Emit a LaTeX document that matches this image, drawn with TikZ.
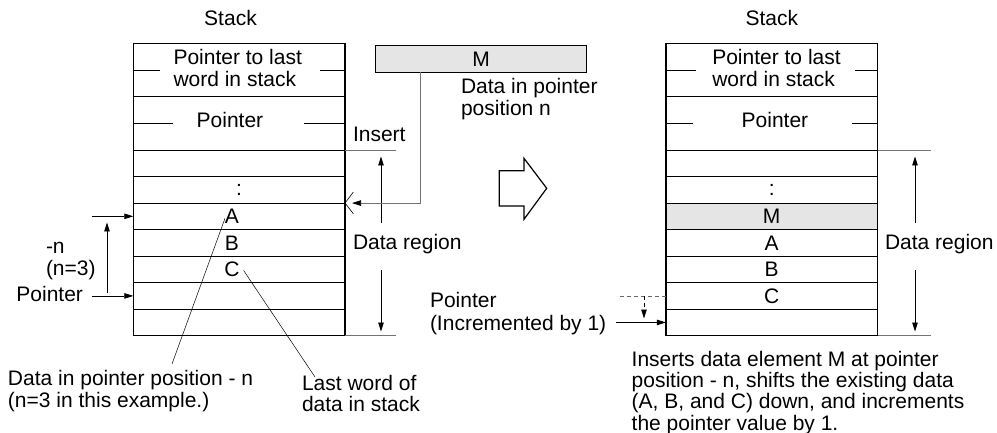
\documentclass[tikz,border=0pt]{standalone}
\usepackage{fontspec}
\setmainfont{Liberation Sans}
\usetikzlibrary{arrows.meta,calc}
\begin{document}
\begin{tikzpicture}[x=1pt,y=-1pt, font=\fontsize{21}{21.5}\selectfont,
  cell/.style={draw, line width=0.9pt, minimum width=211.7pt, minimum height=26.53pt, inner sep=0pt, outer sep=0pt},
  tall/.style={cell, minimum height=53.35pt},
  txt/.style={inner sep=0pt, outer sep=0pt},
  dim/.style={draw=black!55, line width=0.6pt},
  arr/.style={-{Triangle[length=9pt,width=5.5pt,color=black]}, line width=0.7pt},
  lead/.style={line width=0.5pt},
  datafill/.style={fill=black!10},
  border/.style={line width=1.4pt},
]
\useasboundingbox (0,0) rectangle (997,433);

% ---------- left stack ----------
\node[txt, anchor=base] (stackL) at (230.5,25.7) {Stack};
\node[tall] (lh1) at (239.15,70.15) {};
\node[tall] (lh2) at (239.15,123.5) {};
\node[cell] (l1) at (239.15,163.27) {};
\node[cell] (l2) at (239.15,189.8) {:};
\node[cell] (l3) at (239.15,216.33) {};
\node[cell] (l4) at (239.15,242.86) {};
\node[cell] (l5) at (239.15,269.39) {};
\node[cell] (l6) at (239.15,295.92) {};
\node[cell] (l7) at (239.15,322.45) {};
\draw[border] (lh1.north west) rectangle (l7.south east);
\draw[line width=0.9pt] (lh1.west) -- ++(26.7,0) (lh1.east) -- ++(-25,0);
\draw[line width=0.9pt] (lh2.west) -- ++(39.7,0) (lh2.east) -- ++(-41,0);
\node[txt, anchor=base west] (lt1) at (173.5,65) {Pointer to last};
\node[txt, anchor=base west] (lt2) at (173.5,86.7) {word in stack};
\node[txt, anchor=base west] (lt3) at (196.7,127.3) {Pointer};
\node[txt] (lA) at (232,216.33) {A};
\node[txt] (lB) at (232,242.86) {B};
\node[txt] (lC) at (232,269.39) {C};

% left side pointer marks
\node[txt, anchor=base west] (mn) at (46,253.3) {-n};
\node[txt, anchor=base west] (n3) at (46,275) {(n=3)};
\node[txt, anchor=base east] (ptrL) at (83,301) {Pointer};
\coordinate (nstart) at (92,216.33);
\draw[arr] (nstart) -- (l3.west);
\draw[arr] ([xshift=9pt]ptrL.east |- l6.west) -- (l6.west);
\coordinate (nvb) at (107,293);
\coordinate (nvt) at (107,222.5);
\draw[arr] (nvb) -- (nvt);

% leader texts
\node[txt, anchor=base west] (dA1) at (8,385) {Data in pointer position - n};
\node[txt, anchor=base west] (dA2) at (8,407) {(n=3 in this example.)};
\node[txt, anchor=base west] (lw1) at (302,390) {Last word of};
\node[txt, anchor=base west] (lw2) at (302,411.7) {data in stack};
\coordinate (dAe) at (172,364);
\coordinate (lwe) at (315,377);
\draw[lead] ([shift={(0,2)}]lA.west) -- (dAe);
\draw[lead] ([shift={(4,1)}]lC.east) -- (lwe);

% data region (left)
\draw[dim] (l1.north east) -- ++(51,0);
\draw[dim] (l7.south east) -- ++(51,0);
\coordinate (dl1) at (381,223);
\coordinate (dl2) at (381,156.5);
\coordinate (dl3) at (381,270);
\coordinate (dl4) at (381,331.5);
\draw[arr] (dl1) -- (dl2);
\draw[arr] (dl3) -- (dl4);
\node[txt, anchor=base west] (ins) at (353,141.7) {Insert};
\node[txt, anchor=base west] (drL) at (353,249) {Data region};

% M box
\node[cell, datafill, minimum width=211pt, minimum height=26.6pt] (mbox) at (481.2,59) {M};
\node[txt, anchor=base west] (dp1) at (461,94) {Data in pointer};
\node[txt, anchor=base west] (dp2) at (461,116) {position n};
\draw[arr, draw=black!55] ($(mbox.south west)+(45,0)$) |- ([xshift=7pt]l3.north east);
\draw[line width=0.6pt] ([shift={(8.3,-11)}]l3.north east) -- (l3.north east) -- ([shift={(8.3,10.6)}]l3.north east);

% hollow arrow
\draw[line width=1.2pt, line join=miter] (499.3,170.7) -- (524,170.7) -- (524,158.3) -- (546.7,188.3) -- (524,219.3) -- (524,206) -- (499.3,206) -- cycle;

% ---------- right stack ----------
\node[txt, anchor=base] (stackR) at (771.8,25.7) {Stack};
\node[tall] (rh1) at (771.7,70.15) {};
\node[tall] (rh2) at (771.7,123.5) {};
\node[cell] (r1) at (771.7,163.27) {};
\node[cell] (r2) at (771.7,189.8) {:};
\node[cell, datafill] (r3) at (771.7,216.33) {M};
\node[cell] (r4) at (771.7,242.86) {A};
\node[cell] (r5) at (771.7,269.39) {B};
\node[cell] (r6) at (771.7,295.92) {C};
\node[cell] (r7) at (771.7,322.45) {};
\draw[border] (rh1.north west) rectangle (r7.south east);
\draw[line width=0.9pt] (rh1.west) -- ++(30.3,0) (rh1.east) -- ++(-22.7,0);
\draw[line width=0.9pt] (rh2.west) -- ++(27.3,0) (rh2.east) -- ++(-26,0);
\node[txt, anchor=base west] (rt1) at (712.3,65) {Pointer to last};
\node[txt, anchor=base west] (rt2) at (712.3,86.7) {word in stack};
\node[txt, anchor=base west] (rt3) at (741.7,127.3) {Pointer};

% data region (right)
\draw[dim] (r1.north east) -- ++(53,0);
\draw[dim] (r7.south east) -- ++(53,0);
\coordinate (dr1) at (915,223);
\coordinate (dr2) at (915,156.5);
\coordinate (dr3) at (915,270);
\coordinate (dr4) at (915,331.5);
\draw[arr] (dr1) -- (dr2);
\draw[arr] (dr3) -- (dr4);
\node[txt, anchor=base west] (drR) at (885,249) {Data region};

% pointer incremented
\node[txt, anchor=base west] (pi1) at (430,307.7) {Pointer};
\node[txt, anchor=base west] (pi2) at (430,330) {(Incremented by 1)};
\draw[arr] ([xshift=10pt]pi2.east |- r7.west) -- (r7.west);
\draw[dashed, dash pattern=on 4pt off 3pt, line width=0.6pt, black!60] (r6.west) -- ++(-49,0);
\coordinate (pd1) at (644,295.92);
\coordinate (pd2) at (644,318.5);
\draw[arr, dash pattern=on 4pt off 3pt, line width=0.6pt] (pd1) -- (pd2);

% explanation
\node[txt, anchor=base west] (ex1) at (631.7,366.7) {Inserts data element M at pointer};
\node[txt, anchor=base west] (ex2) at (631.7,387.8) {position - n, shifts the existing data};
\node[txt, anchor=base west] (ex3) at (631.7,408.9) {(A, B, and C) down, and increments};
\node[txt, anchor=base west] (ex4) at (631.7,430) {the pointer value by 1.};
\end{tikzpicture}
\end{document}
